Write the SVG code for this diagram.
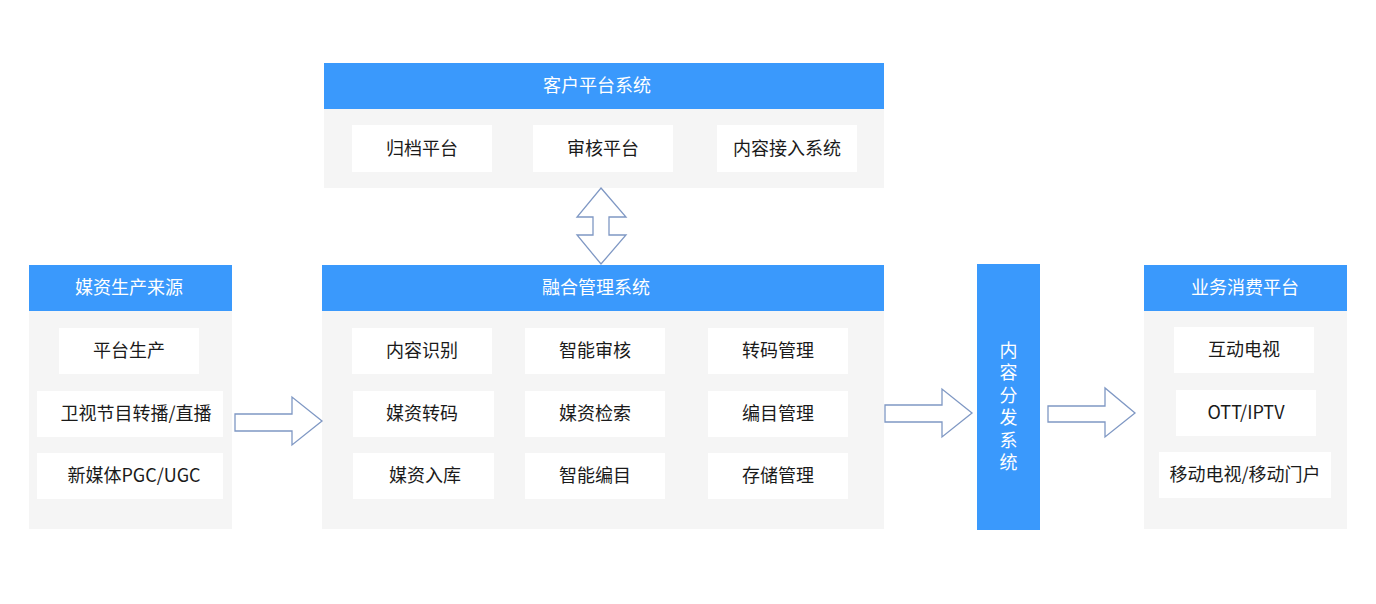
<svg xmlns="http://www.w3.org/2000/svg" width="1376" height="604" viewBox="0 0 1376 604">
<style>
.body{fill:#f5f5f5}
.hdr{fill:#3a99fc}
.box{fill:#ffffff}
.t{font-family:"Noto Sans CJK SC","Liberation Sans",sans-serif;font-size:18px;fill:#1a1a1a;text-anchor:middle}
.h{font-family:"Noto Sans CJK SC","Liberation Sans",sans-serif;font-size:18px;fill:#ffffff;text-anchor:middle}
.v{font-family:"Noto Sans CJK SC","Liberation Sans",sans-serif;font-size:18px;fill:#ffffff;writing-mode:vertical-rl;text-orientation:upright;letter-spacing:4.5px}
.arr{fill:#ffffff;stroke:#7f98c4;stroke-width:1.3;stroke-linejoin:miter}
</style>
<rect width="1376" height="604" fill="#ffffff"/>

<g id="client-platform">
<rect class="body" x="324" y="63" width="560" height="125"/>
<rect class="hdr" x="324" y="63" width="560" height="46"/>
<text class="h" x="597" y="92">客户平台系统</text>
<rect class="box" x="352" y="125" width="140" height="47"/>
<text class="t" x="422" y="155">归档平台</text>
<rect class="box" x="533" y="125" width="140" height="47"/>
<text class="t" x="603" y="155">审核平台</text>
<rect class="box" x="717" y="125" width="140" height="47"/>
<text class="t" x="787" y="155">内容接入系统</text>
</g>

<g id="media-source">
<rect class="body" x="29" y="265" width="203" height="264"/>
<rect class="hdr" x="29" y="265" width="203" height="46"/>
<text class="h" x="129" y="294">媒资生产来源</text>
<rect class="box" x="59" y="328" width="140" height="46"/>
<text class="t" x="129" y="357">平台生产</text>
<rect class="box" x="37" y="391" width="186" height="46"/>
<text class="t" x="136" y="420">卫视节目转播/直播</text>
<rect class="box" x="37" y="453" width="186" height="46"/>
<text class="t" x="134" y="482">新媒体PGC/UGC</text>
</g>

<g id="fusion-management">
<rect class="body" x="322" y="265" width="562" height="264"/>
<rect class="hdr" x="322" y="265" width="562" height="46"/>
<text class="h" x="596" y="294">融合管理系统</text>
<rect class="box" x="352" y="328" width="140" height="46"/>
<text class="t" x="422" y="357">内容识别</text>
<rect class="box" x="525" y="328" width="140" height="46"/>
<text class="t" x="595" y="357">智能审核</text>
<rect class="box" x="708" y="328" width="140" height="46"/>
<text class="t" x="778" y="357">转码管理</text>
<rect class="box" x="353" y="391" width="141" height="46"/>
<text class="t" x="422" y="420">媒资转码</text>
<rect class="box" x="525" y="391" width="140" height="46"/>
<text class="t" x="595" y="420">媒资检索</text>
<rect class="box" x="708" y="391" width="140" height="46"/>
<text class="t" x="778" y="420">编目管理</text>
<rect class="box" x="353" y="453" width="141" height="46"/>
<text class="t" x="425" y="482">媒资入库</text>
<rect class="box" x="525" y="453" width="140" height="46"/>
<text class="t" x="595" y="482">智能编目</text>
<rect class="box" x="708" y="453" width="140" height="46"/>
<text class="t" x="778" y="482">存储管理</text>
</g>

<g id="distribution">
<rect class="hdr" x="977" y="264" width="63" height="266"/>
<text class="v" x="1008.5" y="341">内容分发系统</text>
</g>

<g id="consumer-platform">
<rect class="body" x="1144" y="265" width="203" height="264"/>
<rect class="hdr" x="1144" y="265" width="203" height="46"/>
<text class="h" x="1245" y="294">业务消费平台</text>
<rect class="box" x="1174" y="327" width="140" height="46"/>
<text class="t" x="1244" y="356">互动电视</text>
<rect class="box" x="1176" y="390" width="140" height="46"/>
<text class="t" x="1246" y="419">OTT/IPTV</text>
<rect class="box" x="1159" y="452" width="172" height="46"/>
<text class="t" x="1245" y="481">移动电视/移动门户</text>
</g>

<g id="connectors">
<polygon class="arr" points="601,188 626,217 609,217 609,235 626,235 601,264 577,235 593,235 593,217 577,217"/>
<polygon class="arr" points="235,414 292,414 292,397 322,421 292,445 292,431 235,431"/>
<polygon class="arr" points="885,405 942,405 942,389 972,413 942,437 942,422 885,422"/>
<polygon class="arr" points="1048,406 1105,406 1105,388 1135,413 1105,437 1105,422 1048,422"/>
</g>
</svg>
